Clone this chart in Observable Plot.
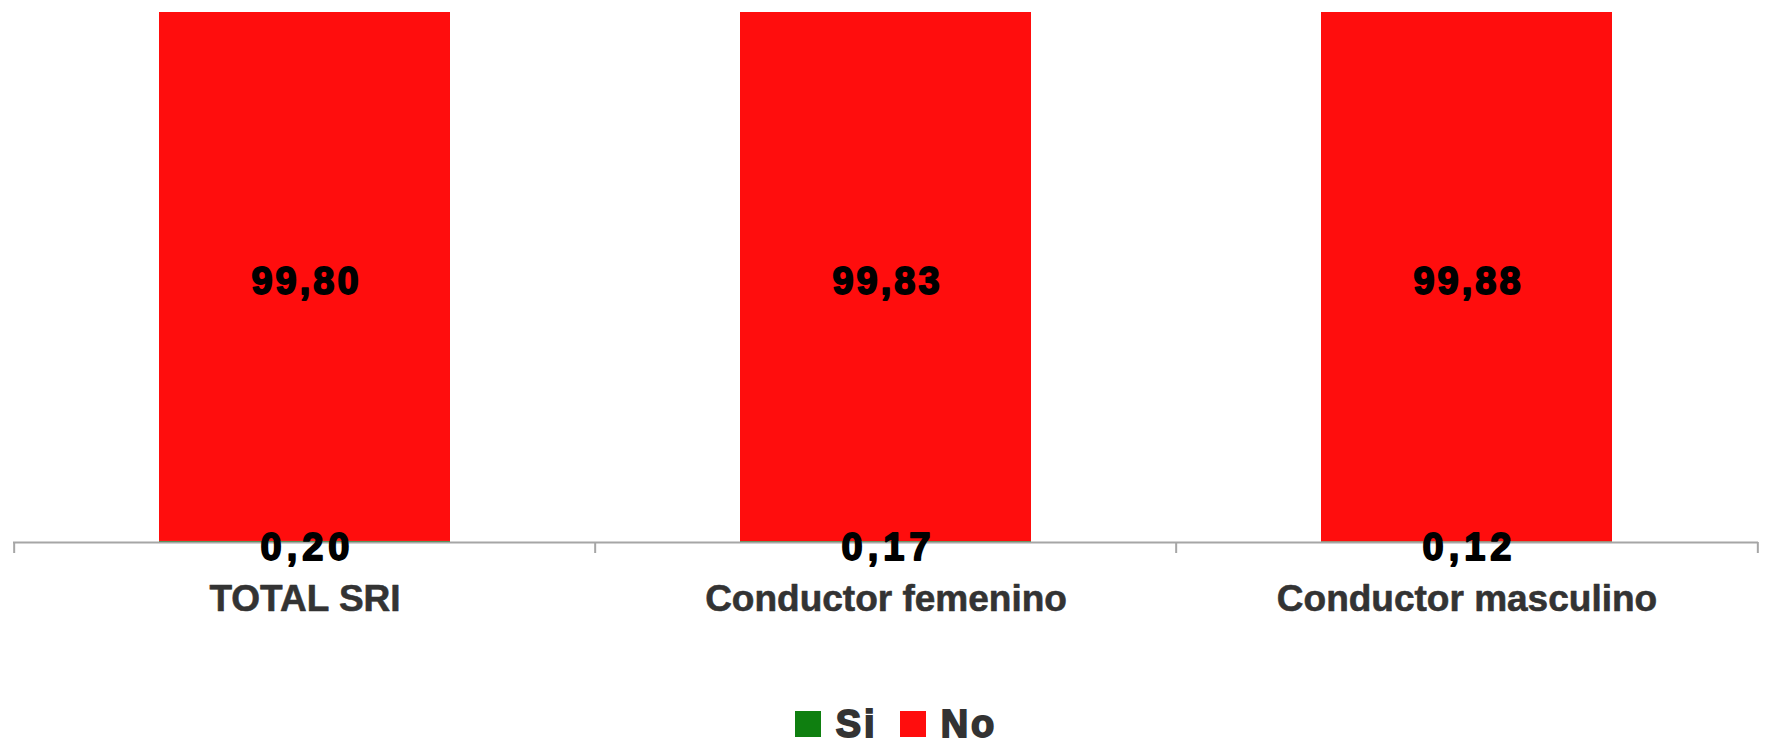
<!DOCTYPE html>
<html>
<head>
<meta charset="utf-8">
<script src="https://cdn.jsdelivr.net/npm/d3@7"></script>
<script src="https://cdn.jsdelivr.net/npm/@observablehq/plot@0.6"></script>
<style>
  html, body { margin: 0; padding: 0; background: #fff; }
  body { width: 1768px; height: 749px; overflow: hidden; font-family: "Liberation Sans", Arial, sans-serif; }
  #legend { display: flex; justify-content: center; align-items: center; height: 59px; padding-top: 8px; padding-left: 24px; box-sizing: border-box; }
  .item { display: flex; align-items: center; margin: 0 11px; }
  .sw { width: 26px; height: 26px; margin-right: 15px; }
  .lab { font-size: 38px; font-weight: bold; color: #333; -webkit-text-stroke: 1.8px #333; letter-spacing: 3px; line-height: 1; }
</style>
</head>
<body>
<div id="chart"></div>
<div id="legend"></div>
<script>
const categories = ["TOTAL SRI", "Conductor femenino", "Conductor masculino"];
const siValues = [0.20, 0.17, 0.12];
const noValues = [99.80, 99.83, 99.88];
const seriesNames = ["Si", "No"];
const seriesColors = ["#0f7f10", "#ff0d0d"];

const rows = categories.flatMap((c, i) => [
  {cat: c, series: "Si", value: siValues[i], base: 0},
  {cat: c, series: "No", value: noValues[i], base: siValues[i]}
]);
const fmt = v => v.toFixed(2).replace(".", ",");

const W = 1768, H = 690, ML = 13, MR = 10, MT = 12, MB = 148;
const step = (W - ML - MR) / categories.length;

const plot = Plot.plot({
  width: W, height: H,
  marginLeft: ML, marginRight: MR, marginTop: MT, marginBottom: MB,
  style: {fontFamily: "'Liberation Sans', Arial, sans-serif", background: "#fff"},
  x: {domain: categories, paddingInner: 0.5, paddingOuter: 0.25, axis: null},
  y: {domain: [0, 100], axis: null},
  color: {domain: seriesNames, range: seriesColors},
  marks: [
    Plot.barY(rows, {x: "cat", y: "value", fill: "series"}),
    Plot.ruleY([0], {stroke: "#a6a6a6", strokeWidth: 2}),
    Plot.ruleX(categories, {x: d => d, y1: 0, y2: 0, insetBottom: -11, dx: -step / 2, stroke: "#a6a6a6", strokeWidth: 2}),
    Plot.ruleX(categories.slice(-1), {x: d => d, y1: 0, y2: 0, insetBottom: -11, dx: step / 2, stroke: "#a6a6a6", strokeWidth: 2}),
    Plot.text(rows.filter(d => d.series === "No"), {
      x: "cat", y: d => d.base + d.value / 2, text: d => fmt(d.value), dy: 5,
      fontSize: 38, fontWeight: "bold", fill: "#000", stroke: "#000", strokeWidth: 1.8
    }),
    Plot.text(rows.filter(d => d.series === "Si"), {
      x: "cat", y: d => d.base + d.value / 2, text: d => fmt(d.value), dy: 6,
      fontSize: 38, fontWeight: "bold", fill: "#000", stroke: "#000", strokeWidth: 1.8
    }),
    Plot.text(categories, {
      x: d => d, y: d => 0, text: d => d, dy: 57,
      fontSize: 37, fontWeight: "bold", fill: "#333", stroke: "#333", strokeWidth: 0.6
    })
  ]
});
document.getElementById("chart").appendChild(plot);
const noTexts = noValues.map(fmt), siTexts = siValues.map(fmt);
d3.select(plot).selectAll("text")
  .filter(function() { return noTexts.includes(this.textContent); })
  .style("letter-spacing", "3px").attr("dx", 1.5);
d3.select(plot).selectAll("text")
  .filter(function() { return siTexts.includes(this.textContent); })
  .style("letter-spacing", "5px").attr("dx", 2.5);

const legend = document.getElementById("legend");
seriesNames.forEach((s, i) => {
  const item = document.createElement("div");
  item.className = "item";
  const sw = document.createElement("div");
  sw.className = "sw";
  sw.style.background = seriesColors[i];
  const lab = document.createElement("span");
  lab.className = "lab";
  lab.textContent = s;
  item.appendChild(sw); item.appendChild(lab);
  legend.appendChild(item);
});
</script>
</body>
</html>
